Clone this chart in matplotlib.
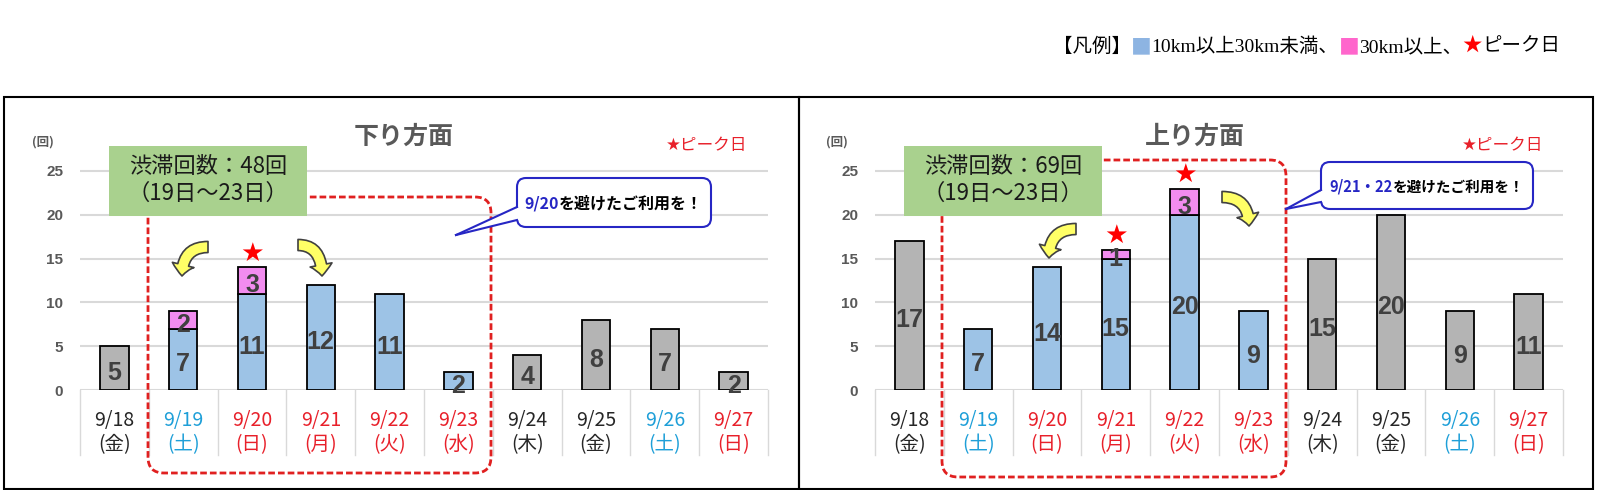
import matplotlib
matplotlib.use('Agg')
import matplotlib.pyplot as plt
import numpy as np
from matplotlib.patches import FancyBboxPatch, Rectangle, Polygon, FancyArrowPatch, ArrowStyle
from matplotlib.lines import Line2D
from matplotlib.transforms import Affine2D, blended_transform_factory

plt.rcParams['font.family'] = ['Noto Sans CJK JP', 'DejaVu Sans']

# ---------------- data ----------------
dates = ['9/18', '9/19', '9/20', '9/21', '9/22', '9/23', '9/24', '9/25', '9/26', '9/27']
weekdays = ['金', '土', '日', '月', '火', '水', '木', '金', '土', '日']
day_kind = ['weekday', 'saturday', 'holiday', 'holiday', 'holiday', 'holiday',
            'weekday', 'weekday', 'saturday', 'holiday']

down_grey = [5, 0, 0, 0, 0, 0, 4, 8, 7, 2]
down_blue = [0, 7, 11, 12, 11, 2, 0, 0, 0, 0]
down_pink = [0, 2, 3, 0, 0, 0, 0, 0, 0, 0]
down_peaks = ['9/20']

up_grey = [17, 0, 0, 0, 0, 0, 15, 20, 9, 11]
up_blue = [0, 7, 14, 15, 20, 9, 0, 0, 0, 0]
up_pink = [0, 0, 0, 1, 3, 0, 0, 0, 0, 0]
up_peaks = ['9/21', '9/22']

down_title = '下り方面'
up_title = '上り方面'
down_count_text = '渋滞回数：48回'
up_count_text = '渋滞回数：69回'
period_text = '（19日～23日）'
down_callout = [('9/20', 'blue'), ('を避けたご利用を！', 'black')]
up_callout = [('9/21・22', 'blue'), ('を避けたご利用を！', 'black')]
yticks = [0, 5, 10, 15, 20, 25]

# ---------------- style ----------------
W, H = 1600, 490
GREY = '#b4b4b4'
BLUE = '#9dc3e6'
PINK = '#f28cef'
RED = '#e8202a'
CALL_BLUE = '#2626c4'
kind_color = {'weekday': '#262626', 'saturday': '#1e9fd8', 'holiday': '#e8202a'}
UNIT = 8.76
YMAX = 25.3

fig = plt.figure(figsize=(W / 100, H / 100), dpi=100)
P = Affine2D().scale(1 / W, -1 / H).translate(0, 1) + fig.transFigure
renderer = fig.canvas.get_renderer()


def add_axes_px(x0, x1, y_base):
    h = YMAX * UNIT
    return fig.add_axes([x0 / W, 1 - y_base / H, (x1 - x0) / W, h / H])


def draw_panel(ax, grey, blue, pink, peaks):
    x = np.arange(len(dates))
    grey = np.array(grey)
    blue = np.array(blue)
    pink = np.array(pink)
    ax.set_xlim(-0.5, len(dates) - 0.5)
    ax.set_ylim(0, YMAX)
    ax.set_yticks(yticks)
    ax.grid(axis='y', color='#d9d9d9', lw=1.5)
    ax.set_axisbelow(True)
    for s in ax.spines.values():
        s.set_visible(False)
    ax.set_xticks([])
    ax.tick_params(axis='y', length=0, pad=12, labelsize=11, labelcolor='#595959')
    for t in ax.get_yticklabels():
        t.set_fontweight('bold')
        t.set_fontfamily('Liberation Sans')
    ax.patch.set_alpha(0)
    bw = 0.41
    m = grey > 0
    ax.bar(x[m], grey[m], bw, color=GREY, edgecolor='black', lw=1.3, zorder=2)
    m = blue > 0
    ax.bar(x[m], blue[m], bw, color=BLUE, edgecolor='black', lw=1.3, zorder=2)
    m = pink > 0
    ax.bar(x[m], pink[m], bw, bottom=blue[m], color=PINK, edgecolor='black', lw=1.3, zorder=2)

    def label(i, bottom, v):
        ax.annotate(str(v), (i, bottom + v / 2), xytext=(0, -8.6), textcoords='offset points',
                    ha='center', va='baseline', fontsize=18, fontweight='bold',
                    family='Liberation Sans', color='#404040', zorder=4, annotation_clip=False)

    for i in range(len(dates)):
        if grey[i] > 0:
            label(i, 0, grey[i])
        if blue[i] > 0:
            label(i, 0, blue[i])
        if pink[i] > 0:
            label(i, blue[i], pink[i])
    for d in peaks:
        i = dates.index(d)
        top = grey[i] + blue[i] + pink[i]
        ax.annotate('★', (i, top), xytext=(0, 10), textcoords='offset points',
                    ha='center', va='center', fontsize=19, color='#ff0000',
                    family='DejaVu Sans', annotation_clip=False, zorder=5)
    blend = blended_transform_factory(ax.transData, P)
    for i in range(len(dates)):
        c = kind_color[day_kind[i]]
        ax.text(i, 420, dates[i], transform=blend, ha='center', va='center', fontsize=14, color=c)
        ax.text(i, 445, f'({weekdays[i]})', transform=blend, ha='center', va='center', fontsize=14, color=c)
    for b in np.arange(-0.5, len(dates), 1.0):
        ax.plot([b, b], [390, 455], transform=blend, color='#d9d9d9', lw=1, clip_on=False, zorder=1)


def rich_text(x, y, pieces, align='center', **kw):
    texts, widths = [], []
    for p in pieces:
        s, c = p[0], p[1]
        extra = dict(kw)
        if len(p) > 2:
            extra.update(p[2])
        t = fig.text(0, 0, s, color=c, transform=P, va='center', ha='left', **extra)
        widths.append(t.get_window_extent(renderer).width)
        texts.append(t)
    total = sum(widths)
    if align == 'center':
        cx = x - total / 2
    elif align == 'right':
        cx = x - total
    else:
        cx = x
    for t, w in zip(texts, widths):
        t.set_position((cx, y))
        cx += w


def decor(title, title_x, peak_x, unit_x, green, count_text, dashed, callout_box,
          callout_base, callout_tip, callout_pieces, callout_size, arrows):
    fig.text(title_x, 137, title, transform=P, ha='center', va='center', fontsize=18,
             fontweight='bold', color='#595959')
    fig.text(unit_x, 142, '(回)', transform=P, ha='center', va='center', fontsize=9,
             fontweight='bold', color='#595959')
    fig.text(peak_x, 145, '★ピーク日', transform=P, ha='center', va='center', fontsize=12,
             color=RED, family=['DejaVu Sans', 'Noto Sans CJK JP'])
    # dashed period box
    x0, x1, y0, y1 = dashed
    fig.add_artist(FancyBboxPatch((x0, y0), x1 - x0, y1 - y0,
                                  boxstyle='round,pad=0,rounding_size=16', transform=P,
                                  fill=False, ec='#e02020', lw=2, ls=(0, (2.4, 1.1)), zorder=3))
    # green total box
    gx0, gx1, gy0, gy1 = green
    fig.add_artist(Rectangle((gx0, gy0), gx1 - gx0, gy1 - gy0, transform=P,
                             fc='#a9d18e', ec='none', zorder=4))
    gc = (gx0 + gx1) / 2
    fig.text(gc, 166, count_text, transform=P, ha='center', va='center', fontsize=16,
             color='#1a1a1a', zorder=5)
    fig.text(gc, 193, period_text, transform=P, ha='center', va='center', fontsize=16,
             color='#1a1a1a', zorder=5)
    # callout
    bx0, bx1, by0, by1 = callout_box
    fig.add_artist(FancyBboxPatch((bx0, by0), bx1 - bx0, by1 - by0,
                                  boxstyle='round,pad=0,rounding_size=9', transform=P,
                                  fc='white', ec=CALL_BLUE, lw=1.5, zorder=4))
    yb1, yb2 = callout_base
    fig.add_artist(Polygon([(bx0 + 2, yb1), callout_tip, (bx0 + 2, yb2)], closed=True,
                           transform=P, fc='white', ec='none', zorder=5))
    for yb in (yb1, yb2):
        fig.add_artist(Line2D([bx0, callout_tip[0]], [yb, callout_tip[1]], transform=P,
                              color=CALL_BLUE, lw=1.5, zorder=6))
    pieces = [(s, CALL_BLUE if c == 'blue' else 'black') for s, c in callout_pieces]
    rich_text((bx0 + bx1) / 2, (by0 + by1) / 2 + 1, pieces, fontsize=callout_size,
              fontweight='bold', zorder=7)
    # yellow curved arrows
    style = ArrowStyle.Simple(head_length=0.8, head_width=1.6, tail_width=0.8)
    for a, b in arrows:
        fig.add_artist(FancyArrowPatch(a, b, transform=P, arrowstyle=style, mutation_scale=10,
                                       connectionstyle='angle3,angleA=0,angleB=90',
                                       fc='#ffff66', ec='#404040', lw=1.2,
                                       shrinkA=0, shrinkB=0, zorder=6))


axL = add_axes_px(80, 768, 390)
axR = add_axes_px(875, 1563, 390)
draw_panel(axL, down_grey, down_blue, down_pink, down_peaks)
draw_panel(axR, up_grey, up_blue, up_pink, up_peaks)

decor(down_title, 404, 707, 43, (109, 307, 146, 216), down_count_text,
      (148, 491, 197, 473), (517, 711, 178, 227), (207, 220), (456, 235), down_callout, 11.5,
      [((208, 247), (182, 276)), ((298, 245), (322, 276))])
decor(up_title, 1195, 1503, 837, (904, 1102, 146, 216), up_count_text,
      (942, 1286, 160, 477), (1321, 1533, 162, 209), (190, 202), (1286, 209), up_callout, 10.5,
      [((1076, 229), (1049, 258)), ((1222, 197), (1249, 226))])

# panel borders
fig.add_artist(Rectangle((4, 96.5), 795, 392, transform=P, fill=False, ec='black', lw=1.5, zorder=8))
fig.add_artist(Rectangle((799, 96.5), 794, 392, transform=P, fill=False, ec='black', lw=1.5, zorder=8))

# top legend
sq = {'fontsize': 15, 'family': ['Noto Sans CJK JP']}
rich_text(1560, 47, [('【凡例】', 'black'), ('■', '#8db4e2', sq), ('10km以上30km未満、', 'black'),
                     ('■', '#ff66cc', sq), ('30km以上、', 'black'), ('★', '#ff0000'),
                     ('ピーク日', 'black')],
          align='right', fontsize=14, family=['Liberation Serif', 'Noto Sans CJK JP'])

fig.savefig('out.png', dpi=100)
